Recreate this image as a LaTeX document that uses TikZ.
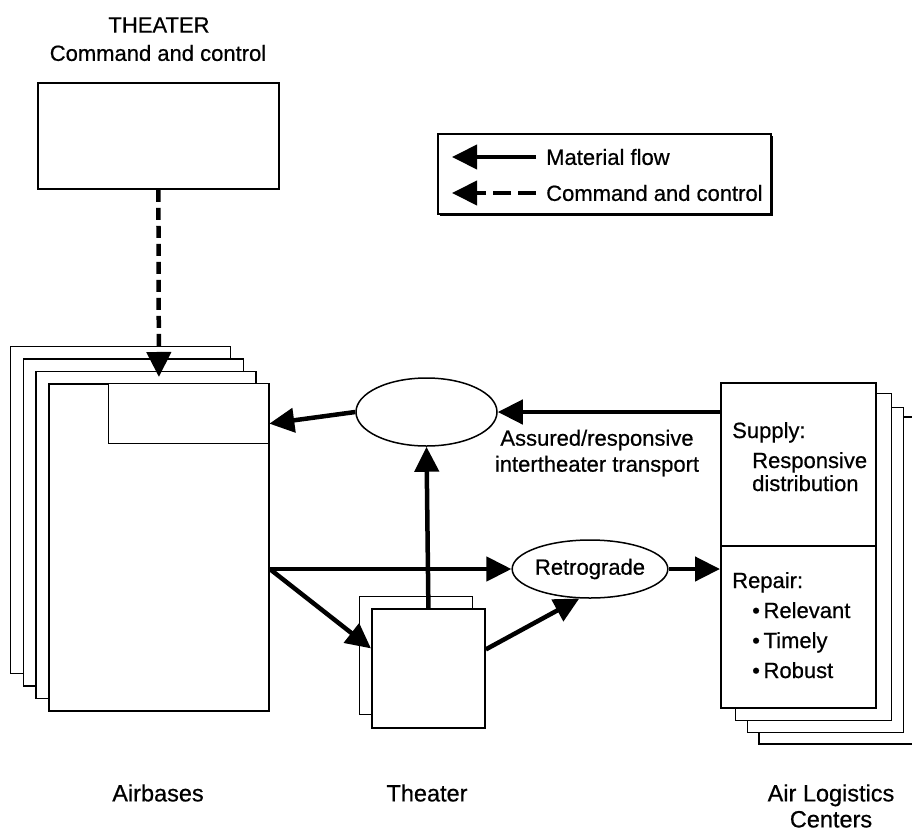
\documentclass[tikz,border=0pt]{standalone}
\usepackage{fontspec}
\setmainfont{Liberation Sans}[FakeBold=0.6]
\usetikzlibrary{arrows.meta,shapes.geometric}

\tikzset{
  sheet/.style={draw, line width=1.3pt, fill=white, inner sep=0pt, anchor=north west},
  flow/.style={line width=4.5pt, -{Triangle[length=25pt,width=24pt]}},
  ctrl/.style={flow, dash pattern=on 12pt off 6pt},
  lbl/.style={inner sep=0pt, font=\fontsize{22}{26}\selectfont},
  big/.style={inner sep=0pt, font=\fontsize{23.5}{26}\selectfont},
}

\begin{document}
\begin{tikzpicture}[x=1pt,y=-1pt]
\useasboundingbox (0,0) rectangle (912,835);

\node[lbl] (c2title) at (159,25) {THEATER};
\node[lbl] (c2sub) at (158,53) {Command and control};
\node[sheet, line width=1.8pt, minimum width=241pt, minimum height=106pt] (c2) at (37,82) {};

\fill (440,136) rectangle (773,216);
\node[sheet, line width=1.5pt, minimum width=333pt, minimum height=80pt] (legend) at (437,133) {};
\node[lbl, anchor=west] (lmat) at (546,157) {Material flow};
\node[lbl, anchor=west] (lcc) at (546,193) {Command and control};
\coordinate (lmatend) at (452,157);
\coordinate (lccend) at (452,193);
\draw[flow, line width=4pt, shorten <=10pt] (lmat.west) -- (lmatend);
\draw[ctrl, line width=4pt, dash pattern=on 18pt off 7pt, shorten <=10pt] (lcc.west) -- (lccend);

\foreach \k in {0,1,2}
  \node[sheet, minimum width=220pt, minimum height=327pt] (ab\k) at ({10+12.7*\k},{346+12.4*\k}) {};
\node[sheet, line width=1.8pt, minimum width=220pt, minimum height=327pt] (abf) at (48,383) {};
\node[sheet, minimum width=160pt, minimum height=60pt] (abin) at (108,383) {};

\node[sheet, minimum width=113pt, minimum height=118pt] (th0) at (359,596) {};
\node[sheet, line width=1.8pt, minimum width=113pt, minimum height=119pt] (thf) at (371,608) {};

\draw[line width=1.3pt] (912,417) -| (759,744) -- (912,744);
\node[sheet, minimum width=156pt, minimum height=325pt] (alc1) at (747,407) {};
\node[sheet, minimum width=156pt, minimum height=327pt] (alc0) at (735,393) {};
\node[sheet, line width=1.8pt, minimum width=155pt, minimum height=163pt] (alcs) at (720,382) {};
\node[sheet, line width=1.8pt, minimum width=155pt, minimum height=162pt] (alcr) at (720,545) {};

\node[lbl, anchor=base west] (supply) at (732,438) {Supply:};
\node[lbl, anchor=base west] (resp) at (752,468) {Responsive};
\node[lbl, anchor=base west] (distr) at (752,491) {distribution};
\node[lbl, anchor=base west] (repair) at (732,588) {Repair:};
\node[lbl, anchor=base west] (relev) at (752,618) {\textbullet\,Relevant};
\node[lbl, anchor=base west] (timely) at (752,648) {\textbullet\,Timely};
\node[lbl, anchor=base west] (robust) at (752,678) {\textbullet\,Robust};

\node[draw, ellipse, line width=1.5pt, minimum width=141pt, minimum height=68pt] (lift) at (426.5,412) {};
\node[draw, ellipse, line width=1.5pt, minimum width=142pt, minimum height=58pt, lbl] (retro) at (590,569) {Retrograde};
\node[lbl, align=center] (trans) at (597,453) {Assured/responsive\\intertheater transport};

\coordinate (split) at (abf.east |- retro);
\draw[ctrl] (c2.south) -- ([yshift=6pt]abf.north);
\draw[flow] (alcs.west |- lift.east) -- (lift.east);
\draw[flow] (lift.west) -- ([yshift=-10pt]abin.east);
\draw[flow] (thf.north) -- (lift.south);
\draw[flow] (split) -- (retro.west);
\draw[flow] (split) -- ([yshift=20pt]thf.west);
\draw[flow] ([yshift=19pt]thf.east) -- (retro.250);
\draw[flow] (retro.east) -- (alcr.west |- retro.east);

\node[big] (abname) at (158,793) {Airbases};
\node[big] (thname) at (427,793) {Theater};
\node[big, align=center] (alcname) at (831,806) {Air Logistics\\Centers};
\end{tikzpicture}
\end{document}
